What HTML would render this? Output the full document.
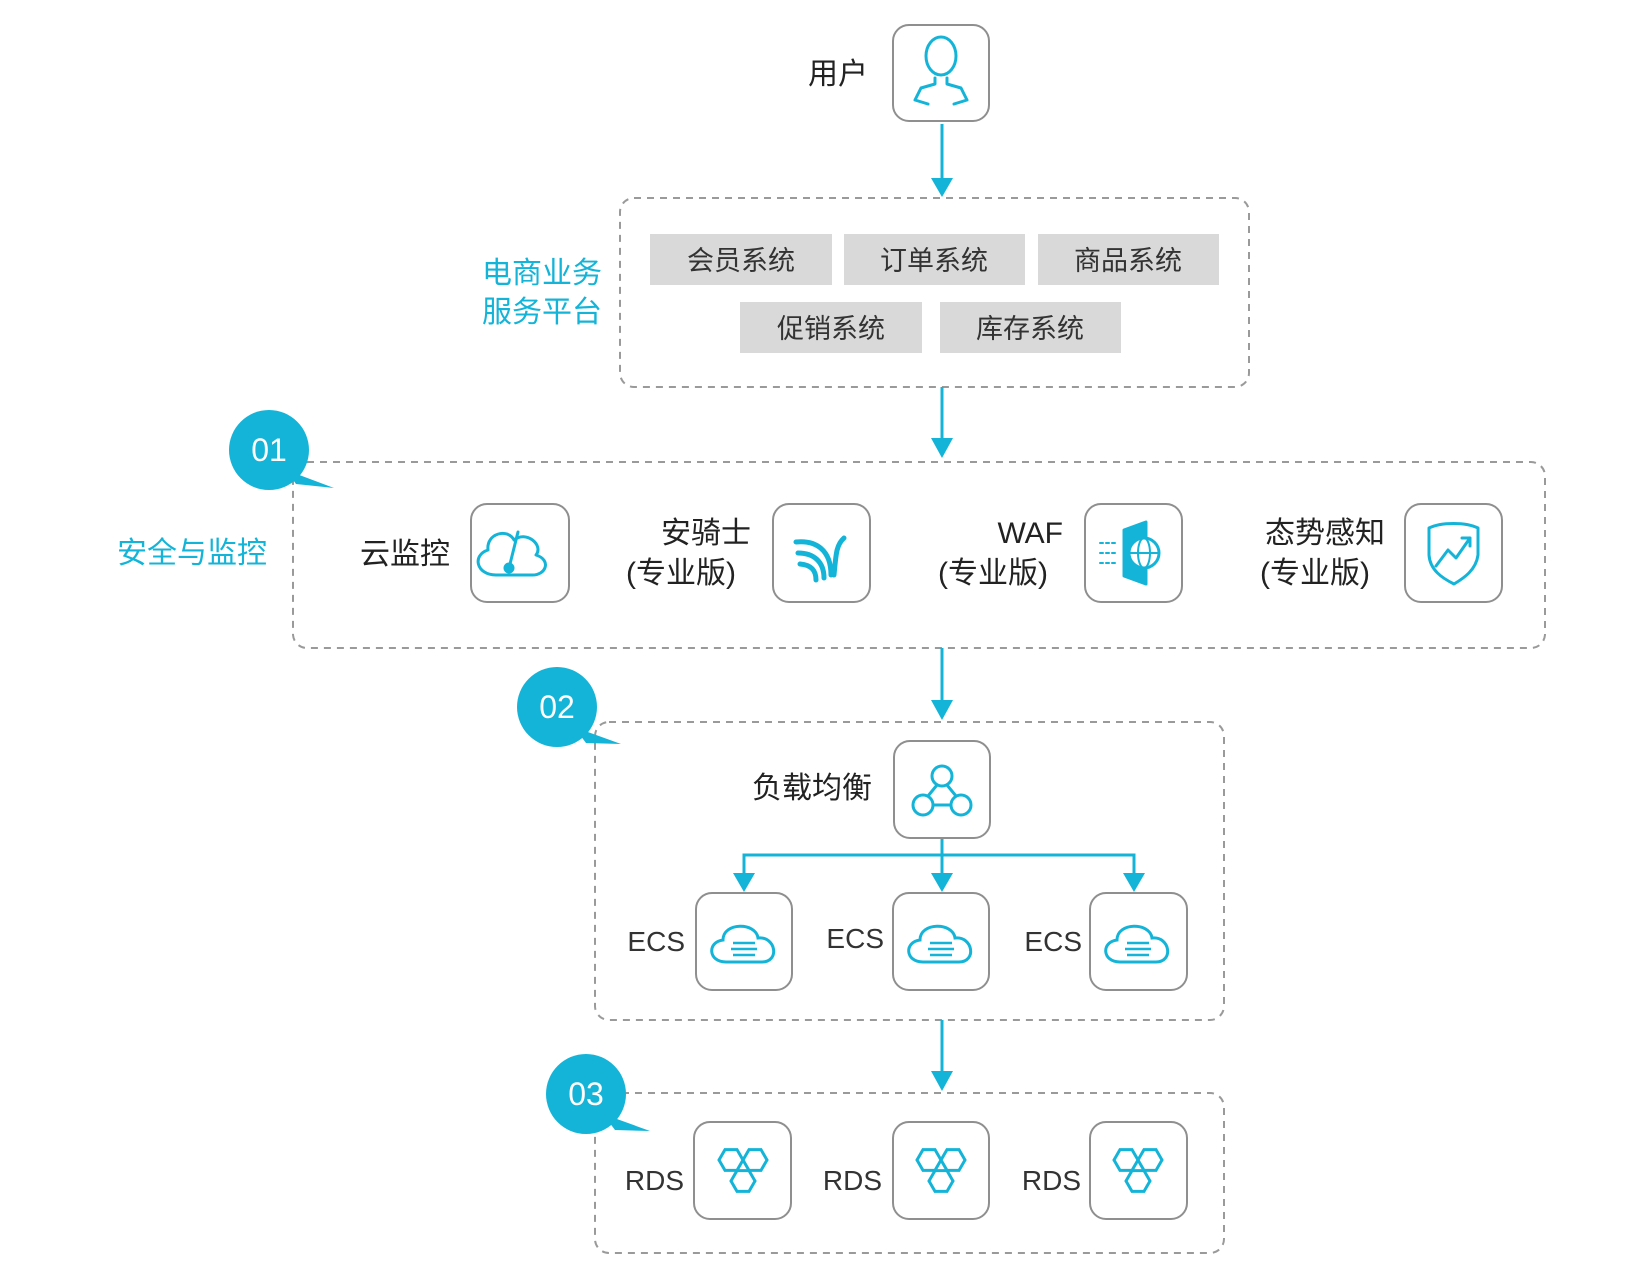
<!DOCTYPE html>
<html><head><meta charset="utf-8"><style>
html,body{margin:0;padding:0;background:#fff;}
svg{display:block;}
text{font-family:"Liberation Sans","Noto Sans CJK SC",sans-serif;}
</style></head><body>
<svg width="1640" height="1280" viewBox="0 0 1640 1280" xmlns="http://www.w3.org/2000/svg">
<defs>
<path id="hx" d="M12,0 L6,10.4 L-6,10.4 L-12,0 L-6,-10.4 L6,-10.4 Z"/>
</defs>
<g transform="translate(-4,0)">
<g fill="none" stroke="#9a9a9a" stroke-width="2" stroke-dasharray="7,6">
<rect x="624" y="198" width="629" height="189" rx="14"/>
<rect x="297" y="462" width="1252" height="186" rx="14"/>
<rect x="599" y="722" width="629" height="298" rx="14"/>
<rect x="599" y="1093" width="629" height="160" rx="14"/>
</g>
<g stroke="#14b4d8" stroke-width="3" fill="#14b4d8">
<line x1="946" y1="124" x2="946" y2="180"/><path d="M935,178 L957,178 L946,197 Z" stroke="none"/>
<line x1="946" y1="387" x2="946" y2="440"/><path d="M935,438 L957,438 L946,458 Z" stroke="none"/>
<line x1="946" y1="648" x2="946" y2="702"/><path d="M935,700 L957,700 L946,720 Z" stroke="none"/>
<line x1="946" y1="1020" x2="946" y2="1073"/><path d="M935,1071 L957,1071 L946,1091 Z" stroke="none"/>
<line x1="946" y1="838" x2="946" y2="875"/>
<polyline points="748,875 748,855 1138,855 1138,875" fill="none"/>
<path d="M737,873 L759,873 L748,892 Z" stroke="none"/>
<path d="M935,873 L957,873 L946,892 Z" stroke="none"/>
<path d="M1127,873 L1149,873 L1138,892 Z" stroke="none"/>
</g>
<g fill="#d9d9d9">
<rect x="654" y="234" width="182" height="51"/>
<rect x="848" y="234" width="181" height="51"/>
<rect x="1042" y="234" width="181" height="51"/>
<rect x="744" y="302" width="182" height="51"/>
<rect x="944" y="302" width="181" height="51"/>
</g>
<g font-size="27" fill="#333" text-anchor="middle">
<text x="745" y="270">会员系统</text>
<text x="938" y="270">订单系统</text>
<text x="1132" y="270">商品系统</text>
<text x="835" y="338">促销系统</text>
<text x="1034" y="338">库存系统</text>
</g>
<g font-size="30" fill="#14b4d8" text-anchor="end">
<text x="606" y="283">电商业务</text>
<text x="606" y="322">服务平台</text>
<text x="271" y="563">安全与监控</text>
</g>
<g fill="#fff" stroke="#8f8f8f" stroke-width="2">
<rect x="897" y="25" width="96" height="96" rx="16"/>
<rect x="475" y="504" width="98" height="98" rx="16"/>
<rect x="777" y="504" width="97" height="98" rx="16"/>
<rect x="1089" y="504" width="97" height="98" rx="16"/>
<rect x="1409" y="504" width="97" height="98" rx="16"/>
<rect x="898" y="741" width="96" height="97" rx="16"/>
<rect x="700" y="893" width="96" height="97" rx="16"/>
<rect x="897" y="893" width="96" height="97" rx="16"/>
<rect x="1094" y="893" width="97" height="97" rx="16"/>
<rect x="698" y="1122" width="97" height="97" rx="16"/>
<rect x="897" y="1122" width="96" height="97" rx="16"/>
<rect x="1094" y="1122" width="97" height="97" rx="16"/>
</g>
<g fill="none" stroke="#14b4d8" stroke-width="3" stroke-linejoin="round" stroke-linecap="round">
<ellipse cx="945" cy="56" rx="15" ry="19"/>
<path d="M939,78 L939,84 L925,88 L919,100 L932,104 M951,78 L951,84 L965,88 L971,100 L958,104"/>
<path d="M500,575 C480,575 476,555 492,550 C490,533 512,528 518,540 C530,530 548,545 540,555 C556,560 550,576 535,575 Z"/>
<line x1="522" y1="532" x2="513" y2="568"/>
<circle cx="513" cy="568" r="4" fill="#14b4d8"/>
<path d="M800,542 C820,540 835,550 835,575 M802,553 C818,553 828,562 828,578 M804,564 C815,565 820,570 820,580" stroke-width="5"/>
<path d="M838,575 C840,555 840,545 848,538" stroke-width="5"/>
<path d="M1128,530 L1150,522 L1150,584 L1128,576 Z" fill="#14b4d8"/>
<circle cx="1148" cy="553" r="15" fill="#fff"/>
<ellipse cx="1148" cy="553" rx="6" ry="15" stroke-width="2"/>
<line x1="1133" y1="553" x2="1163" y2="553" stroke-width="2"/>
<path d="M1104,543 L1120,543 M1104,553 L1120,553 M1104,563 L1120,563" stroke-dasharray="3,3" stroke-width="2"/>
<path d="M1433,528 C1445,522 1470,522 1482,528 L1482,555 C1480,570 1468,578 1458,584 C1446,578 1434,570 1433,555 Z"/>
<path d="M1440,566 L1452,550 L1460,558 L1474,538 M1466,538 L1474,538 L1474,546"/>
<circle cx="946" cy="776" r="10"/><circle cx="927" cy="805" r="10"/><circle cx="965" cy="805" r="10"/>
<line x1="937" y1="805" x2="955" y2="805"/><line x1="941" y1="785" x2="932" y2="796"/><line x1="951" y1="785" x2="960" y2="796"/>
</g>
<g fill="none" stroke="#14b4d8" stroke-width="3">
<g id="ecs"><path d="M730,962 C712,962 711,942 727,940 C727,922 760,922 762,938 C780,936 784,962 766,962 Z"/><path d="M737,943 L759,943 M735,949 L761,949 M737,955 L759,955" stroke-width="2.5"/></g>
<use href="#ecs" x="197"/><use href="#ecs" x="394"/>
<g id="rds">
<use href="#hx" x="735" y="1160"/><use href="#hx" x="759" y="1160"/><use href="#hx" x="747" y="1181"/>
</g>
<use href="#rds" x="198"/><use href="#rds" x="395"/>
</g>
<g font-size="30" fill="#222" text-anchor="end">
<text x="872" y="84">用户</text>
<text x="454" y="564">云监控</text>
<text x="755" y="543">安骑士</text>
<text x="740" y="583">(专业版)</text>
<text x="1067" y="543">WAF</text>
<text x="1052" y="583">(专业版)</text>
<text x="1389" y="543">态势感知</text>
<text x="1374" y="583">(专业版)</text>
<text x="876" y="798">负载均衡</text>
</g>
<g font-size="28" fill="#333" text-anchor="end">
<text x="689" y="951">ECS</text>
<text x="888" y="948">ECS</text>
<text x="1086" y="951">ECS</text>
<text x="688" y="1190">RDS</text>
<text x="886" y="1190">RDS</text>
<text x="1085" y="1190">RDS</text>
</g>
<g fill="#14b4d8">
<circle cx="273" cy="450" r="40"/><path d="M290,470 L338,488 L300,484 Z"/>
<circle cx="561" cy="707" r="40"/><path d="M578,727 L625,744 L590,743 Z"/>
<circle cx="590" cy="1094" r="40"/><path d="M607,1114 L654,1131 L619,1130 Z"/>
</g>
<g font-size="32" fill="#fff" text-anchor="middle">
<text x="273" y="461">01</text>
<text x="561" y="718">02</text>
<text x="590" y="1105">03</text>
</g>
</g>
</svg>
</body></html>
